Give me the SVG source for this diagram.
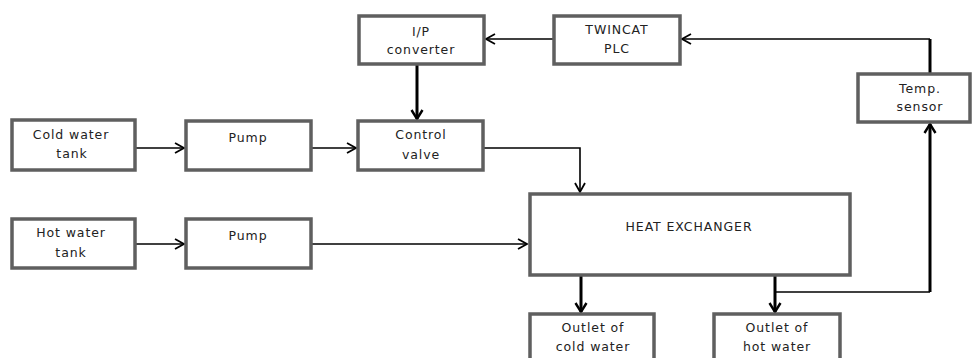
<svg xmlns="http://www.w3.org/2000/svg" width="972" height="358" viewBox="0 0 972 358">
<style>
.box{fill:#fff;stroke:#5f5f5f;stroke-width:3.5}
.t{font-family:"DejaVu Sans",Verdana,sans-serif;font-size:12.5px;fill:#222;text-anchor:middle;letter-spacing:0.9px}
.thin{fill:none;stroke:#000;stroke-width:1.6}
.thick{fill:none;stroke:#000;stroke-width:3}
</style>
<defs>
<marker id="ah" markerWidth="14" markerHeight="14" refX="11" refY="7" orient="auto" markerUnits="userSpaceOnUse">
<path d="M2,2 L11,7 L2,12" fill="none" stroke="#000" stroke-width="1.8"/>
</marker>
<marker id="ahb" markerWidth="14" markerHeight="14" refX="11" refY="7" orient="auto" markerUnits="userSpaceOnUse">
<path d="M2,1.5 L11,7 L2,12.5" fill="none" stroke="#000" stroke-width="2.4"/>
</marker>
</defs>
<rect width="972" height="358" fill="#fff"/>
<g id="connectors">
<path class="thin" d="M136,148 H184" marker-end="url(#ah)"/>
<path class="thin" d="M312,148 H356" marker-end="url(#ah)"/>
<path class="thick" d="M417,64 V119" marker-end="url(#ahb)"/>
<path class="thin" d="M553,39 H486" marker-end="url(#ah)"/>
<path class="thin" d="M930,39 H682" marker-end="url(#ah)"/>
<path class="thick" d="M930,73 V39"/>
<path class="thin" d="M484,148 H580 V192" marker-end="url(#ah)"/>
<path class="thin" d="M136,244 H184" marker-end="url(#ah)"/>
<path class="thin" d="M312,244 H527" marker-end="url(#ah)"/>
<path class="thick" d="M581,275 V312" marker-end="url(#ahb)"/>
<path class="thick" d="M775,275 V312" marker-end="url(#ahb)"/>
<path class="thin" d="M775,292 H930"/>
<path class="thick" d="M930,292 V124" marker-end="url(#ahb)"/>
</g>
<g id="ip"><rect class="box" x="359" y="16" width="125" height="48"/><text class="t" x="421" y="36">I/P</text><text class="t" x="421" y="54">converter</text></g>
<g id="plc"><rect class="box" x="554" y="16" width="126" height="48"/><text class="t" x="617" y="34">TWINCAT</text><text class="t" x="617" y="53">PLC</text></g>
<g id="sensor"><rect class="box" x="858" y="74" width="112" height="48"/><text class="t" x="920" y="93">Temp.</text><text class="t" x="920" y="111">sensor</text></g>
<g id="coldtank"><rect class="box" x="12" y="120" width="123" height="50"/><text class="t" x="71" y="139">Cold water</text><text class="t" x="72" y="158">tank</text></g>
<g id="pump1"><rect class="box" x="186" y="121" width="125" height="49"/><text class="t" x="248" y="142">Pump</text></g>
<g id="valve"><rect class="box" x="358" y="121" width="125" height="49"/><text class="t" x="421" y="139">Control</text><text class="t" x="421" y="159">valve</text></g>
<g id="hottank"><rect class="box" x="12" y="219" width="123" height="49"/><text class="t" x="71" y="237">Hot water</text><text class="t" x="71" y="257">tank</text></g>
<g id="pump2"><rect class="box" x="186" y="219" width="125" height="49"/><text class="t" x="248" y="240">Pump</text></g>
<g id="hx"><rect class="box" x="530" y="194" width="320" height="81"/><text class="t" x="689" y="231" letter-spacing="0.4" font-size="13.5">HEAT EXCHANGER</text></g>
<g id="outcold"><rect class="box" x="530" y="314" width="124" height="50"/><text class="t" x="593" y="332">Outlet of</text><text class="t" x="593" y="351">cold water</text></g>
<g id="outhot"><rect class="box" x="714" y="314" width="126" height="50"/><text class="t" x="777" y="332">Outlet of</text><text class="t" x="777" y="351">hot water</text></g>
</svg>
